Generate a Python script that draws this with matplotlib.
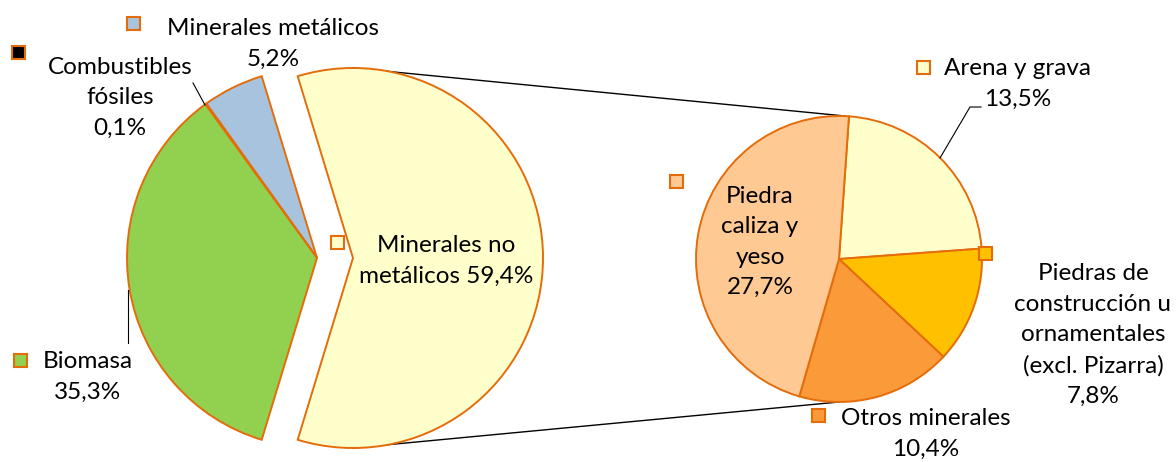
import matplotlib.pyplot as plt
from matplotlib.patches import Rectangle

plt.rcParams['font.family'] = ['Lato', 'DejaVu Sans']

# main pie (share of total, %)
main_labels = ['Minerales no\nmetálicos 59,4%', 'Minerales metálicos\n5,2%',
               'Combustibles\nfósiles\n0,1%', 'Biomasa\n35,3%']
main_values = [59.4, 5.2, 0.1, 35.3]
main_colors = ['#FFFFCC', '#A7C3DD', '#000000', '#92D050']

# breakdown of "Minerales no metálicos" (share of total, %)
sub_labels = ['Arena y grava\n13,5%',
              'Piedras de\nconstrucción u\nornamentales\n(excl. Pizarra)\n7,8%',
              'Otros minerales\n10,4%', 'Piedra\ncaliza y\nyeso\n27,7%']
sub_values = [13.5, 7.8, 10.4, 27.7]
sub_colors = ['#FFFFCC', '#FFC000', '#FA9A38', '#FFC994']

EDGE = '#E46C0A'
W, H = 1176, 462

fig = plt.figure(figsize=(W / 100, H / 100), dpi=100)
ax = fig.add_axes([0, 0, 1, 1])


def Y(y):
    # pixel row -> data y
    return H - y


# left pie, first slice pulled out
r1, c1, pull = 190, (317, Y(258)), 36
start1 = -main_values[0] / 100 * 360 / 2
ax.pie(main_values, colors=main_colors, startangle=start1, counterclock=True,
       center=c1, radius=r1, explode=[pull, 0, 0, 0],
       wedgeprops=dict(edgecolor=EDGE, linewidth=1.4))

# right pie
r2, c2 = 143, (839, Y(259))
ax.pie(sub_values, colors=sub_colors, startangle=86, counterclock=False,
       center=c2, radius=r2,
       wedgeprops=dict(edgecolor=EDGE, linewidth=1.4))

# connector lines (behind the pies)
tip_x = c1[0] + pull
ax.plot([tip_x, c2[0] + 6], [c1[1] + r1, c2[1] + r2], color='black', lw=1, zorder=0)
ax.plot([tip_x, c2[0]], [c1[1] - r1, c2[1] - r2], color='black', lw=1, zorder=0)

# leader lines
ax.plot([193, 205], [Y(83), Y(105)], color='black', lw=0.8)
ax.plot([128, 128], [Y(290), Y(343)], color='black', lw=0.8)
ax.plot([940, 970, 981], [Y(158), Y(107), Y(107)], color='black', lw=0.8)

FS = 17.5


def label(x, y, text, ls=1.56):
    ax.text(x, Y(y), text, ha='center', va='center', fontsize=FS,
            linespacing=ls, color='black')


def marker(x, y, color):
    s = 13
    ax.add_patch(Rectangle((x - s / 2, Y(y) - s / 2), s, s, facecolor=color,
                           edgecolor=EDGE, linewidth=1.5, zorder=5))


label(446, 261, main_labels[0])
label(273, 44, main_labels[1])
label(120, 98, main_labels[2])
label(88, 377, main_labels[3])

label(1018, 84, sub_labels[0])
label(1093, 335, sub_labels[1])
label(926, 434, sub_labels[2])
label(760, 242, sub_labels[3])

marker(337, 242, main_colors[0])
marker(133, 23, main_colors[1])
marker(18, 52, main_colors[2])
marker(20, 360, main_colors[3])
marker(923, 67, sub_colors[0])
marker(985, 253, sub_colors[1])
marker(818, 415, sub_colors[2])
marker(676, 181, sub_colors[3])

ax.set_xlim(0, W)
ax.set_ylim(0, H)
ax.set_aspect('equal')
ax.axis('off')

plt.savefig('out.png', dpi=100)
